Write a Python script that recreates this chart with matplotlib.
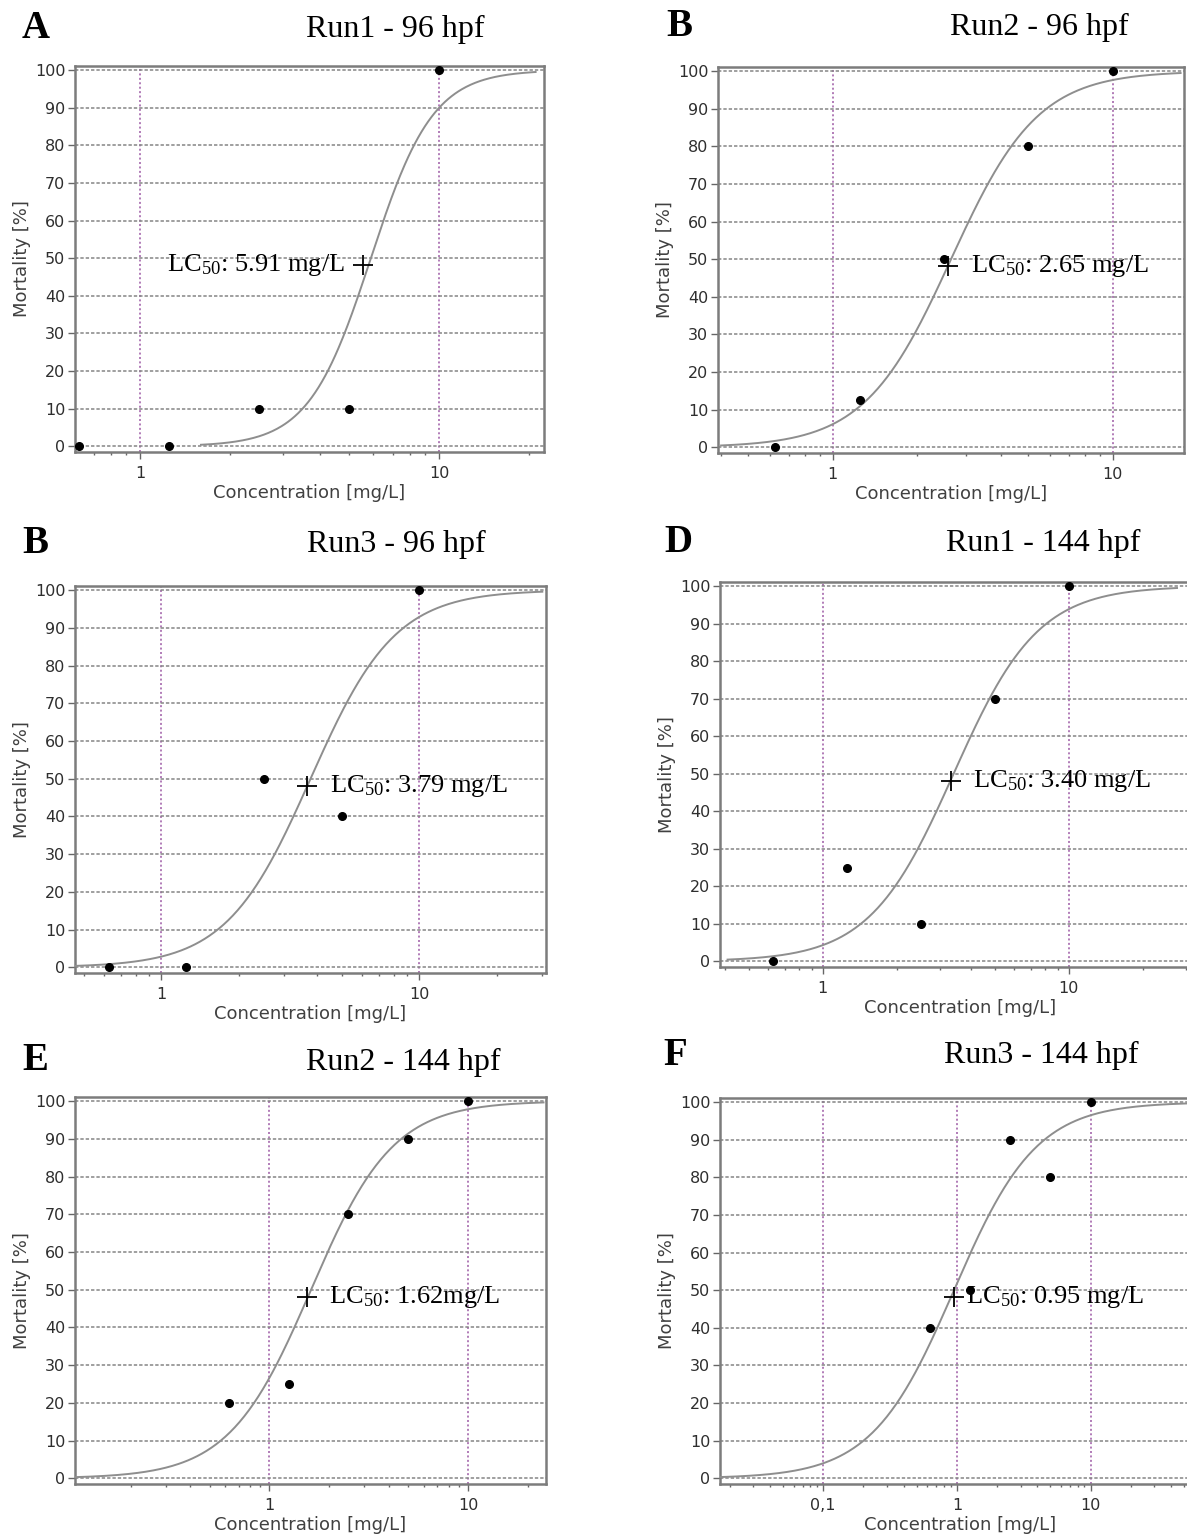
#!/usr/bin/env python3

import numpy as np
import matplotlib
matplotlib.use('Agg')
import matplotlib.pyplot as plt
from matplotlib.transforms import offset_copy
from matplotlib.ticker import FixedLocator, FixedFormatter, LogLocator, NullFormatter

'''
LC50 dose-response curves, six runs (96 hpf / 144 hpf)
'''

# ---- data ----
letters = ['A', 'B', 'B', 'D', 'E', 'F']
titles = ['Run1 - 96 hpf', 'Run2 - 96 hpf', 'Run3 - 96 hpf',
          'Run1 - 144 hpf', 'Run2 - 144 hpf', 'Run3 - 144 hpf']

conc = [0.625, 1.25, 2.5, 5, 10]  # mg/L, same series in every run
mort_a = [0, 0, 10, 10, 100]
mort_b = [0, 12.5, 50, 80, 100]
mort_c = [0, 0, 50, 40, 100]
mort_d = [0, 25, 10, 70, 100]
mort_e = [20, 25, 70, 90, 100]
mort_f = [40, 50, 90, 80, 100]
mortality = [mort_a, mort_b, mort_c, mort_d, mort_e, mort_f]

lc50 = [5.91, 2.65, 3.79, 3.40, 1.62, 0.95]
slopes = [4.18, 2.8, 2.65, 2.53, 2.1, 1.41]        # hill slope of the fitted curve
curve_from = [1.6, 0.40, 0.463, 0.41, 0.105, 0.017]
curve_to = [21.0, 17.5, 30.0, 27.5, 24.0, 60.0]
lc_labels = ['LC$_\\mathregular{50}$: 5.91 mg/L', 'LC$_\\mathregular{50}$: 2.65 mg/L',
             'LC$_\\mathregular{50}$: 3.79 mg/L', 'LC$_\\mathregular{50}$: 3.40 mg/L',
             'LC$_\\mathregular{50}$: 1.62mg/L', 'LC$_\\mathregular{50}$: 0.95 mg/L']

x_ticks = [[1, 10], [1, 10], [1, 10], [1, 10], [1, 10], [0.1, 1, 10]]
x_ticklabels = [['1', '10'], ['1', '10'], ['1', '10'], ['1', '10'], ['1', '10'], ['0,1', '1', '10']]
y_ticks = list(range(0, 101, 10))

# ---- layout (pixels) ----
W, H = 1187, 1538
# left, top, right, bottom of the plot frame
boxes = [(75, 66, 544, 452), (718, 67, 1184, 453),
         (75, 586, 546, 973), (720, 582, 1200, 967),
         (75, 1097, 546, 1484), (720, 1098, 1200, 1484)]
xlims = [(0.607, 22.4), (0.39, 18.0), (0.463, 31.0), (0.382, 34.1), (0.105, 24.7), (0.0169, 65.8)]
letter_pos = [(22, 38), (666, 36), (22, 553), (664, 552), (22, 1070), (663, 1065)]
title_pos = [(395, 37), (1039, 35), (396, 552), (1043, 551), (403, 1070), (1041, 1063)]
# "+" shift (px) and label offset from the "+" in pixels, and which side
cross_dx = [-8, -3, -4, -3, -4, 0]
lc_offset = [(-18, 'right'), (23, 'left'), (23, 'left'), (22, 'left'), (22, 'left'), (12, 'left')]

SERIF = ['Liberation Serif', 'DejaVu Serif']
SANS = ['DejaVu Sans']
plt.rcParams['mathtext.fontset'] = 'stix'
plt.rcParams['font.family'] = SERIF


def draw_panel(fig, i):
    l, t, r, b = boxes[i]
    ax = fig.add_axes([l / W, 1 - b / H, (r - l) / W, (b - t) / H])
    ax.set_xscale('log')
    ax.set_xlim(*xlims[i])
    ax.set_ylim(-1.5, 101.1)

    # grid: gray dashed horizontals, purple dotted decades
    ax.set_axisbelow(True)
    ax.grid(axis='y', color='#858585', linestyle=(0, (2.2, 1.3)), lw=1.1)
    ax.grid(axis='x', which='major', color='#9c58a4', linestyle=(0, (1.3, 1.6)), lw=1.1)

    # fitted curve
    xs = np.logspace(np.log10(curve_from[i]), np.log10(curve_to[i]), 300)
    ys = 100.0 / (1.0 + (lc50[i] / xs) ** slopes[i])
    ax.plot(xs, ys, color='#8e8e8e', lw=1.4, zorder=3)

    # measured points
    ax.plot(conc, mortality[i], 'o', color='black', ms=5.5, zorder=4, clip_on=False)

    # LC50 cross + label
    tr = offset_copy(ax.transData, fig=fig, x=cross_dx[i], y=-7, units='dots')
    ax.plot(lc50[i], 50, '+', color='black', ms=15, mew=1.3, transform=tr, zorder=5)
    dx, side = lc_offset[i]
    ax.annotate(lc_labels[i], (lc50[i], 50), xycoords=tr, xytext=(dx, 0),
                textcoords='offset pixels', ha=side, va='center',
                fontsize=19, family=SERIF, color='black', zorder=6)

    # axes, ticks
    for sp in ax.spines.values():
        sp.set_color('#7c7c7c')
        sp.set_linewidth(1.8)
    ax.xaxis.set_major_locator(FixedLocator(x_ticks[i]))
    ax.xaxis.set_major_formatter(FixedFormatter(x_ticklabels[i]))
    ax.xaxis.set_minor_locator(LogLocator(base=10, subs=np.arange(2, 10)))
    ax.xaxis.set_minor_formatter(NullFormatter())
    ax.set_yticks(y_ticks)
    ax.set_yticklabels([str(v) for v in y_ticks])
    ax.tick_params(axis='both', which='major', direction='out', length=5, width=1,
                   color='#666666', labelcolor='#2e2e2e', labelsize=11.5, pad=2)
    ax.tick_params(axis='x', which='major', pad=5)
    ax.tick_params(axis='x', which='minor', direction='out', length=2.5, width=1, color='#666666')
    for lab in ax.get_xticklabels() + ax.get_yticklabels():
        lab.set_family(SANS)

    ax.set_xlabel('Concentration [mg/L]', family=SANS, fontsize=13,
                  color='#404040', labelpad=2)
    ax.set_ylabel('Mortality [%]', family=SANS, fontsize=13,
                  color='#404040', labelpad=3)

    # panel letter and title
    lx, ly = letter_pos[i]
    fig.text(lx / W, 1 - ly / H, letters[i], fontsize=28, fontweight='bold',
             family=SERIF, ha='left', va='baseline')
    tx, ty = title_pos[i]
    fig.text(tx / W, 1 - ty / H, titles[i], fontsize=23, family=SERIF,
             ha='center', va='baseline')
    return ax


if __name__ == '__main__':
    fig = plt.figure(figsize=(W / 100, H / 100), dpi=100)
    for i in range(6):
        draw_panel(fig, i)
    plt.savefig('out.png', dpi=100)
